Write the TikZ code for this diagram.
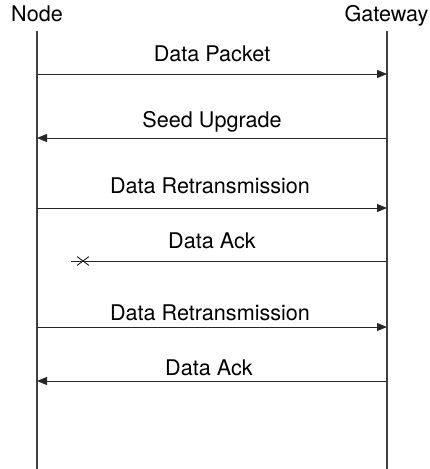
\documentclass[tikz,border=0pt]{standalone}
\usepackage{fontspec}
\setmainfont{TeX Gyre Heros}
\usetikzlibrary{arrows.meta,shapes.misc}

\begin{document}
\begin{tikzpicture}[x=1pt,y=-1pt,
    actor/.style={font=\fontsize{21.6}{26}\selectfont, anchor=base, inner sep=0pt},
    msglabel/.style={font=\fontsize{21.6}{26}\selectfont, anchor=base, inner sep=0pt},
    lifeline/.style={draw=black!75, line width=1.1pt},
    msg/.style={draw=black!85, line width=0.9pt, -{Triangle[length=10pt,width=8pt]}},
    lostmark/.style={draw=black, cross out, line width=0.8pt, minimum width=11pt, minimum height=8pt, inner sep=0pt}]
  \useasboundingbox (0,0) rectangle (430,469);

  % actors and lifelines
  \node[actor] (node) at (37,21) {Node};
  \node[actor] (gw) at (386.5,21) {Gateway};
  \coordinate (nodetop) at (37,31);
  \coordinate (nodeend) at (37,469);
  \coordinate (gwtop) at (387,31);
  \coordinate (gwend) at (387,469);
  \draw[lifeline] (nodetop) -- (nodeend);
  \draw[lifeline] (gwtop) -- (gwend);

  % data packet
  \coordinate (n1) at (37,74);
  \coordinate (g1) at (387,74);
  \draw[msg] (n1) -- (g1);
  \node[msglabel] (l1) at (212,61) {Data Packet};

  % seed upgrade
  \coordinate (n2) at (37,138);
  \coordinate (g2) at (387,138);
  \draw[msg] (g2) -- (n2);
  \node[msglabel] (l2) at (212,127) {Seed Upgrade};

  % retransmission
  \coordinate (n3) at (37,208);
  \coordinate (g3) at (387,208);
  \draw[msg] (n3) -- (g3);
  \node[msglabel] (l3) at (210,193) {Data Retransmission};

  % ack gets lost
  \coordinate (g4) at (387,261);
  \coordinate (lostend) at (71,261);
  \node[lostmark] (lost) at (83,261) {};
  \draw[draw=black!85, line width=0.9pt] (g4) -- (lostend);
  \node[msglabel] (l4) at (212,248) {Data Ack};

  % second retransmission
  \coordinate (n5) at (37,327);
  \coordinate (g5) at (387,327);
  \draw[msg] (n5) -- (g5);
  \node[msglabel] (l5) at (210,320) {Data Retransmission};

  % ack
  \coordinate (n6) at (37,381);
  \coordinate (g6) at (387,381);
  \draw[msg] (g6) -- (n6);
  \node[msglabel] (l6) at (209,375) {Data Ack};
\end{tikzpicture}
\end{document}
